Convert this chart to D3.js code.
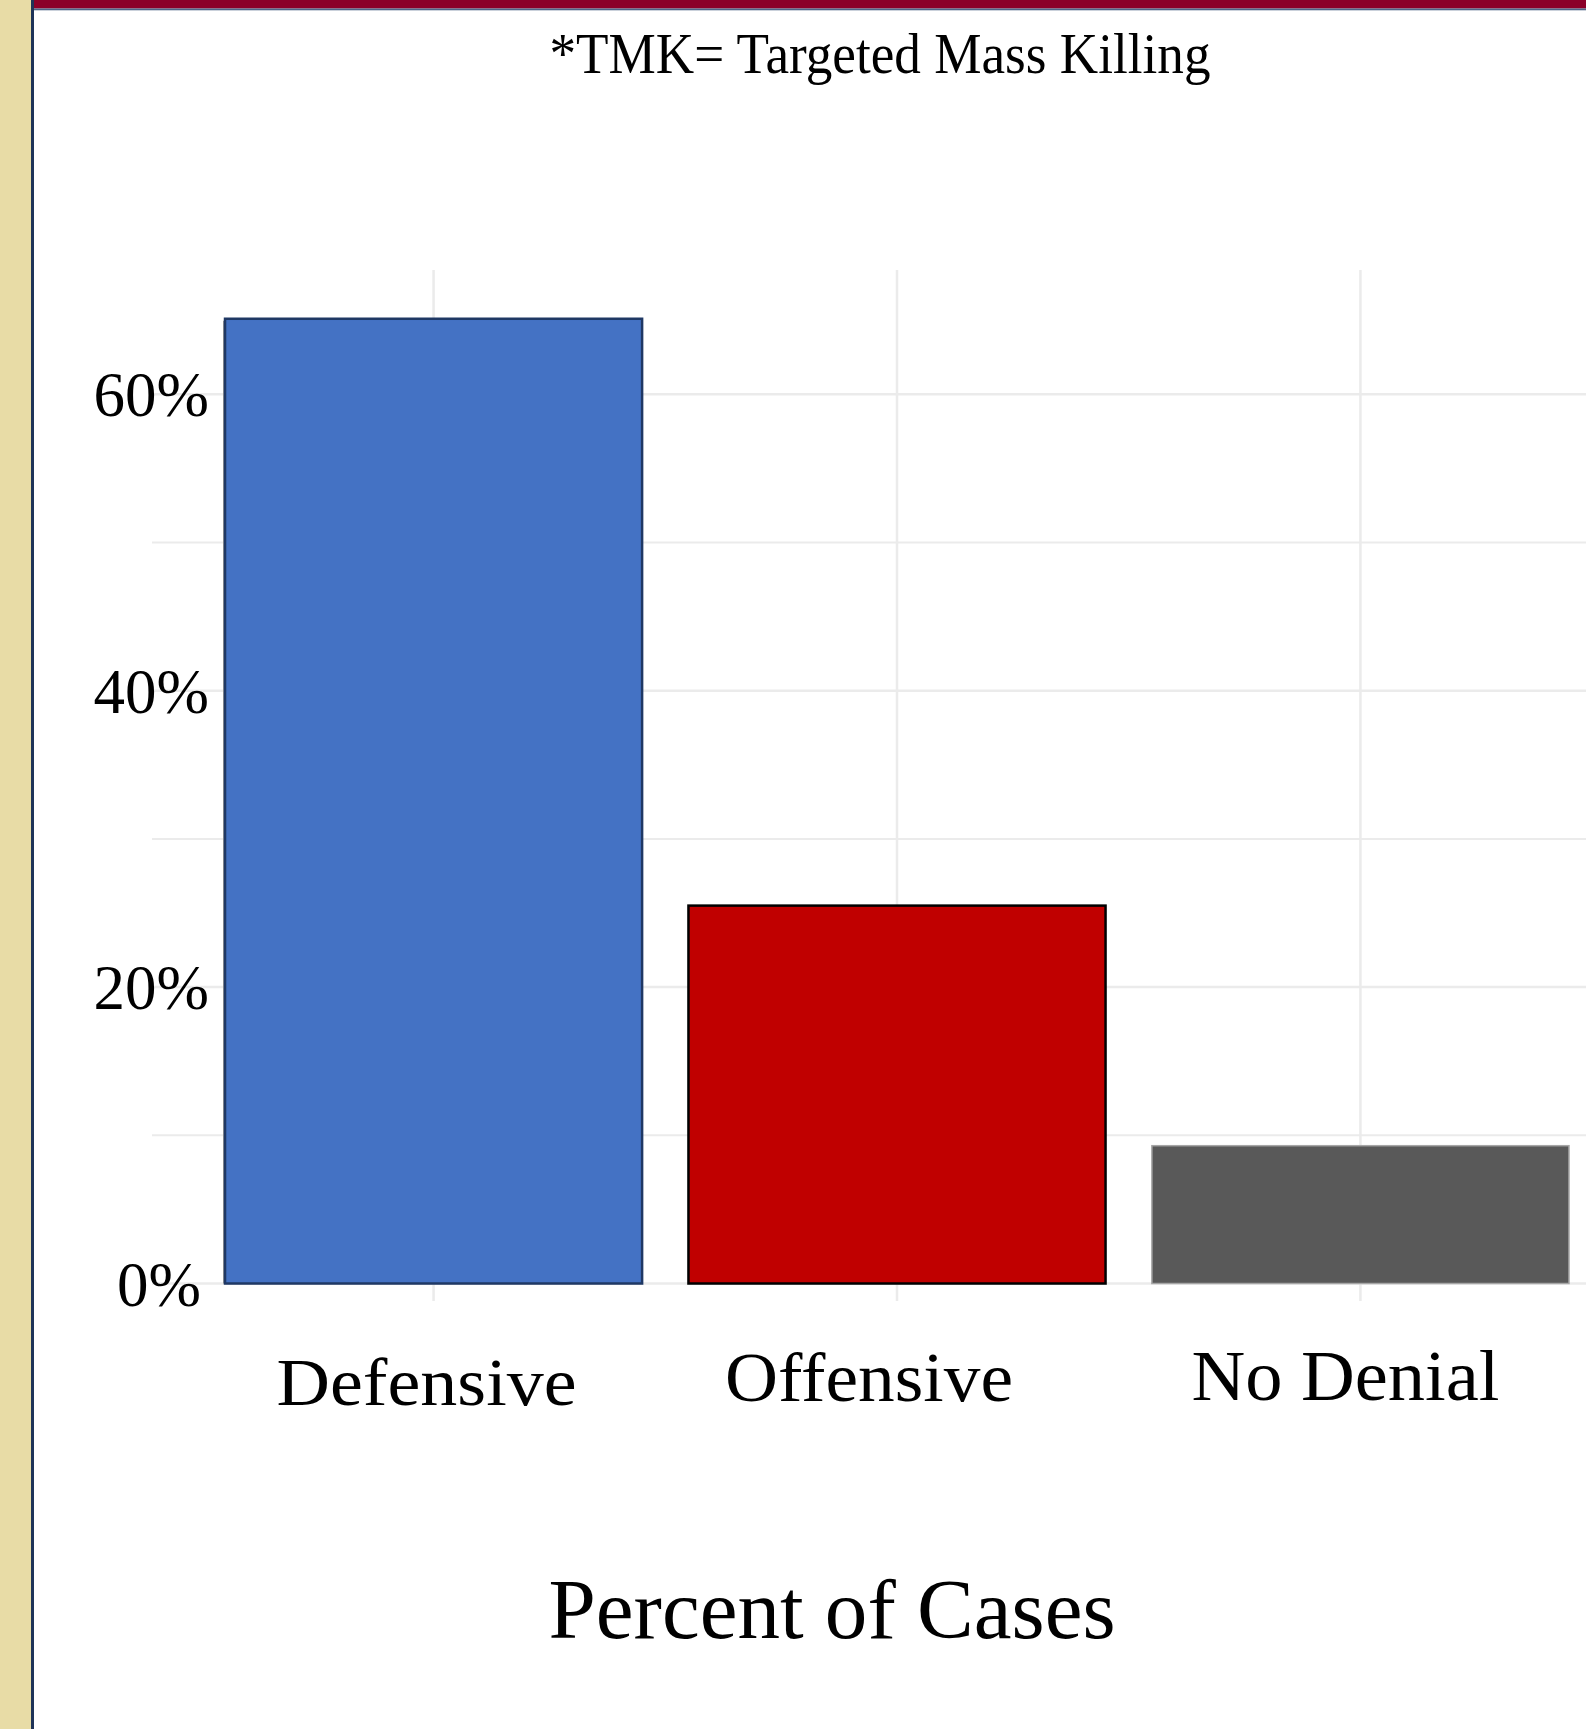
<!DOCTYPE html>
<html>
<head>
<meta charset="utf-8">
<script src="https://cdn.jsdelivr.net/npm/d3@7"></script>
<style>
  body { margin: 0; background: #fff; }
  svg { display: block; }
  text { font-family: "Liberation Serif", "Times New Roman", serif; fill: #000; }
</style>
</head>
<body>
<div id="chart"></div>
<script>
// data
var categories = ["Defensive", "Offensive", "No Denial"];
var percents = [65.1, 25.5, 9.3];
var majorTicks = [0, 20, 40, 60];
var minorTicks = [10, 30, 50];
var subtitle = "*TMK= Targeted Mass Killing";
var axisTitle = "Percent of Cases";

var width = 1586,
    height = 1729;

var fills = ["#4472C4", "#C00000", "#595959"],
    strokes = ["#1F3864", "#000000", "#A6A6A6"],
    strokeW = [2.5, 2.5, 1.5];

// label placement tweaks (labels sit a bit off the bar centres in the original)
var labelShift = [-7, -28, -15],
    labelBase = [1405, 1401, 1400],
    labelSize = [68, 70, 72],
    labelLen = [300, 288, 308];

var svg = d3.select("#chart")
    .append("svg")
    .attr("width", width)
    .attr("height", height);

svg.append("rect").attr("width", width).attr("height", height).attr("fill", "#fff");

// slide frame: beige strip, navy rule, maroon header band
svg.append("rect").attr("x", 0).attr("y", 0).attr("width", 31).attr("height", height).attr("fill", "#E8DCA6");
svg.append("rect").attr("x", 31).attr("y", 0).attr("width", 3).attr("height", height).attr("fill", "#1F3458");
svg.append("rect").attr("x", 34).attr("y", 0).attr("width", width - 34).attr("height", 8.5).attr("fill", "#8B0029");
svg.append("rect").attr("x", 34).attr("y", 8.5).attr("width", width - 34).attr("height", 1.8).attr("fill", "#4F6688");

// scales
var x = d3.scalePoint()
    .domain(categories)
    .range([155.5, 1638.5])
    .padding(0.6);

var y = d3.scaleLinear()
    .domain([-1.18, 68.39])
    .range([1301, 270]);

var barW = x.step() * 0.9;

// gridlines
svg.append("g").selectAll("line")
    .data(minorTicks)
    .enter().append("line")
    .attr("x1", 152).attr("x2", width)
    .attr("y1", function (d) { return y(d); })
    .attr("y2", function (d) { return y(d); })
    .attr("stroke", "#EBEBEB")
    .attr("stroke-width", 2);

svg.append("g").selectAll("line")
    .data(majorTicks)
    .enter().append("line")
    .attr("x1", 152).attr("x2", width)
    .attr("y1", function (d) { return y(d); })
    .attr("y2", function (d) { return y(d); })
    .attr("stroke", "#EBEBEB")
    .attr("stroke-width", 2.5);

svg.append("g").selectAll("line")
    .data(categories)
    .enter().append("line")
    .attr("x1", function (d) { return x(d); })
    .attr("x2", function (d) { return x(d); })
    .attr("y1", y.range()[1])
    .attr("y2", y.range()[0])
    .attr("stroke", "#EBEBEB")
    .attr("stroke-width", 2.5);

// bars
var bars = svg.append("g").selectAll("g")
    .data(percents)
    .enter().append("g");

// faint shadow on the left edge of the first bar
bars.filter(function (d, i) { return i === 0; })
    .append("rect")
    .attr("x", function (d, i) { return x(categories[0]) - barW / 2 - 2; })
    .attr("y", function (d) { return y(d) + 2; })
    .attr("width", 3)
    .attr("height", function (d) { return y(0) - y(d) - 2; })
    .attr("fill", "#9A9A9A");

bars.append("rect")
    .attr("x", function (d, i) { return x(categories[i]) - barW / 2; })
    .attr("y", function (d) { return y(d); })
    .attr("width", barW)
    .attr("height", function (d) { return y(0) - y(d); })
    .attr("fill", function (d, i) { return fills[i]; })
    .attr("stroke", function (d, i) { return strokes[i]; })
    .attr("stroke-width", function (d, i) { return strokeW[i]; });

// y tick labels
svg.append("g").selectAll("text")
    .data(majorTicks)
    .enter().append("text")
    .attr("x", function (d) { return d === 0 ? 201 : 209; })
    .attr("y", function (d) { return y(d); })
    .attr("dy", "0.35em")
    .attr("text-anchor", "end")
    .style("font-size", "63px")
    .text(function (d) { return d3.format(".0%")(d / 100); });

// x category labels
svg.append("g").selectAll("text")
    .data(categories)
    .enter().append("text")
    .attr("x", function (d, i) { return x(d) + labelShift[i]; })
    .attr("y", function (d, i) { return labelBase[i]; })
    .attr("text-anchor", "middle")
    .attr("textLength", function (d, i) { return labelLen[i]; })
    .attr("lengthAdjust", "spacingAndGlyphs")
    .style("font-size", function (d, i) { return labelSize[i] + "px"; })
    .text(function (d) { return d; });

// subtitle and axis title
svg.append("text")
    .attr("x", 880)
    .attr("y", 73)
    .attr("text-anchor", "middle")
    .attr("textLength", 661)
    .attr("lengthAdjust", "spacingAndGlyphs")
    .style("font-size", "57px")
    .text(subtitle);

svg.append("text")
    .attr("x", 832)
    .attr("y", 1638)
    .attr("text-anchor", "middle")
    .attr("textLength", 567)
    .attr("lengthAdjust", "spacingAndGlyphs")
    .style("font-size", "84px")
    .text(axisTitle);
</script>
</body>
</html>
